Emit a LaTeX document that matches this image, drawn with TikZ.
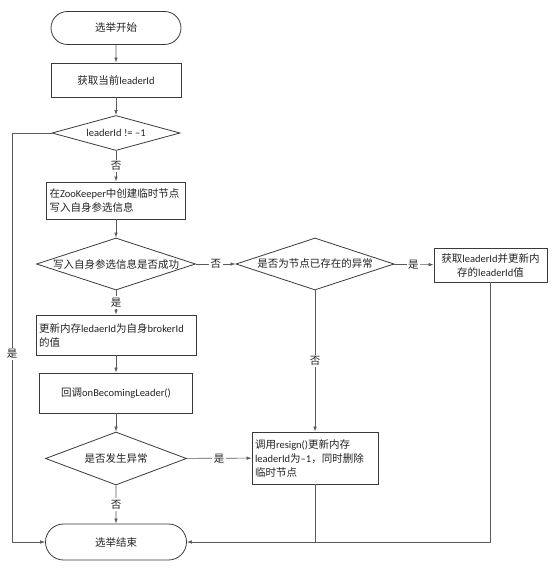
\documentclass[tikz,border=0pt]{standalone}
\usepackage{fontspec}
\setmainfont{Noto Sans CJK SC}
\newfontfamily\latinfont{Carlito}
\newcommand{\en}[1]{{\latinfont #1}}
\usepackage{xcolor}
\definecolor{flowLine}{HTML}{5A5A5A}
\definecolor{flowBorder}{HTML}{3A3A3A}
\definecolor{flowText}{HTML}{222222}
\usetikzlibrary{shapes.geometric,shapes.misc,arrows.meta}

\tikzset{
  terminal/.style={rounded rectangle, draw=flowBorder, line width=0.8pt, inner sep=0pt},
  procbox/.style={rectangle, draw=flowBorder, line width=0.8pt, inner sep=3pt},
  decision/.style={diamond, draw=flowBorder, line width=0.8pt, inner sep=0pt},
  flow/.style={draw=flowLine, line width=0.6pt, -{Latex[length=5pt,width=3.5pt]}},
  link/.style={draw=flowLine, line width=0.6pt},
  lbl/.style={fill=white, inner sep=1.5pt}
}

\begin{document}
\begin{tikzpicture}[x=1pt, y=-1pt, font=\fontsize{10.5}{14}\selectfont, text=flowText]
  \useasboundingbox (0,0) rectangle (553,575);
  % main column
  \node[terminal, minimum width=130pt, minimum height=33pt] (start) at (116,28) {选举开始};
  \node[procbox, minimum width=130pt, minimum height=34pt] (getid) at (116,80) {获取当前\en{leaderId}};
  \node[decision, aspect=3.66, minimum width=128pt, minimum height=35pt] (chk) at (116,133) {\en{leaderId != –1}};
  \node[procbox, text width=133pt, align=left, minimum height=37pt] (create) at (116,200.5)
    {在\en{ZooKeeper}中创建临时节点\\写入自身参选信息};
  \node[decision, aspect=3.06, inner xsep=-6pt, minimum width=159pt, minimum height=52pt] (wrt) at (116,264) {写入自身参选信息是否成功};
  \node[procbox, text width=154pt, align=left, minimum height=40pt] (setl) at (116,335)
    {更新内存\en{ledaerId}为自身\en{brokerId}\\的值};
  \node[procbox, minimum width=153pt, minimum height=40pt] (cbk) at (116,393) {回调\en{onBecomingLeader()}};
  \node[decision, aspect=2.66, minimum width=141pt, minimum height=53pt] (err) at (116,458.5) {是否发生异常};
  \node[terminal, minimum width=141pt, minimum height=36pt] (done) at (116,542) {选举结束};
  % right side
  \node[decision, aspect=3.04, minimum width=158pt, minimum height=52pt] (exc) at (315,264) {是否为节点已存在的异常};
  \node[procbox, text width=107pt, align=center, minimum height=34pt] (upd) at (490.5,265)
    {获取\en{leaderId}并更新内\\存的\en{leaderId}值};
  \node[procbox, text width=120pt, align=left, minimum height=52pt] (rsg) at (315,458)
    {调用\en{resign()}更新内存\\\en{leaderId}为\en{–1}，同时删除\\临时节点};
  \coordinate (lside) at (12,542);

  \draw[flow] (start) -- (getid);
  \draw[flow] (getid) -- (chk);
  \draw[flow] (chk) -- node[lbl] {否} (create);
  \draw[flow] (create) -- (wrt);
  \draw[flow] (wrt) -- node[lbl] {否} (exc);
  \draw[flow] (exc) -- node[lbl] {是} (upd);
  \draw[flow] (wrt) -- node[lbl] {是} (setl);
  \draw[flow] (setl) -- (cbk);
  \draw[flow] (cbk) -- (err);
  \draw[flow] (err) -- node[lbl] {是} (rsg);
  \draw[flow] (err) -- node[lbl] {否} (done);
  \draw[flow] (exc) -- node[lbl] {否} (rsg);
  \draw[flow] (chk.west) -| (lside) node[lbl, pos=0.77] {是} -- (done.west);
  \draw[flow] (upd.south) |- (done.east);
  \draw[link] (rsg.south) -- (rsg.south |- done.east);
\end{tikzpicture}
\end{document}
